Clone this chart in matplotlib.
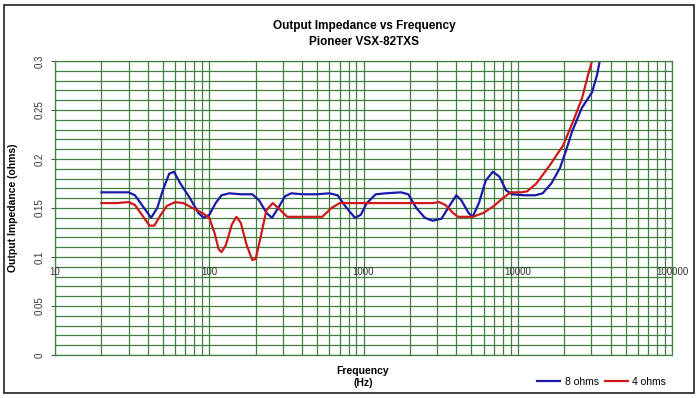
import numpy as np
import matplotlib.pyplot as plt
from matplotlib.patches import Rectangle
from matplotlib.ticker import FixedLocator, NullFormatter

# 8 ohm load
freq_8 = [20, 25, 30, 33, 37, 42, 46, 50, 55, 59, 65, 75, 85, 92, 100, 110, 120, 135,
          160, 190, 210, 235, 255, 280, 310, 340, 400, 500, 600, 680, 760, 880, 960,
          1050, 1200, 1400, 1750, 1950, 2200, 2500, 2800, 3200, 3600, 4000, 4300, 4800,
          5100, 5600, 6200, 6900, 7600, 8400, 9200, 11000, 13000, 14500, 16500, 18800,
          20500, 22500, 26000, 30300, 32700, 34000, 35000]
z_8 = [0.166, 0.166, 0.166, 0.163, 0.152, 0.140, 0.150, 0.168, 0.185, 0.187, 0.175,
       0.160, 0.145, 0.140, 0.143, 0.155, 0.163, 0.165, 0.164, 0.164, 0.158, 0.145,
       0.140, 0.150, 0.162, 0.165, 0.164, 0.164, 0.165, 0.163, 0.152, 0.140, 0.143,
       0.155, 0.164, 0.165, 0.166, 0.164, 0.150, 0.140, 0.137, 0.139, 0.152, 0.163,
       0.158, 0.145, 0.141, 0.155, 0.178, 0.187, 0.182, 0.168, 0.164, 0.163, 0.163,
       0.165, 0.175, 0.191, 0.208, 0.228, 0.252, 0.268, 0.286, 0.300, 0.310]

# 4 ohm load
freq_4 = [20, 25, 30, 33, 37, 41, 44, 48, 53, 60, 68, 78, 90, 100, 108, 115, 120, 128,
          140, 150, 160, 175, 190, 200, 215, 235, 258, 280, 320, 400, 540, 620, 700,
          1000, 2000, 2800, 3100, 3400, 3800, 4100, 5100, 6000, 7000, 8000, 9000, 10500,
          11500, 13200, 16200, 19700, 22800, 26100, 28600, 30300, 31500]
z_4 = [0.155, 0.155, 0.156, 0.153, 0.142, 0.132, 0.132, 0.142, 0.152, 0.156, 0.155,
       0.150, 0.145, 0.140, 0.125, 0.108, 0.105, 0.112, 0.133, 0.141, 0.135, 0.112,
       0.097, 0.098, 0.120, 0.148, 0.155, 0.150, 0.141, 0.141, 0.141, 0.150, 0.155,
       0.155, 0.155, 0.155, 0.156, 0.153, 0.145, 0.141, 0.141, 0.145, 0.152, 0.160,
       0.166, 0.166, 0.167, 0.175, 0.194, 0.214, 0.238, 0.262, 0.286, 0.300, 0.310]

x_ticks = [10, 100, 1000, 10000, 100000]
x_tick_labels = ['10', '100', '1000', '10000', '100000']
y_ticks = [0, 0.05, 0.1, 0.15, 0.2, 0.25, 0.3]
y_tick_labels = ['0', '0.05', '0.1', '0.15', '0.2', '0.25', '0.3']

plt.rcParams['font.family'] = ['Liberation Sans', 'DejaVu Sans']
grid_green = '#3f7f3f'

fig = plt.figure(figsize=(7.0, 3.98), dpi=100)
fig.patch.set_facecolor('white')
fig.patches.append(Rectangle((4 / 700, 5 / 398), 690 / 700, 388 / 398,
                             transform=fig.transFigure, fill=False,
                             edgecolor='#202020', linewidth=1.2))

ax = fig.add_axes([55 / 700, 43 / 398, 617 / 700, 294 / 398])
ax.set_xscale('log')
ax.set_xlim(10, 100000)
ax.set_ylim(0, 0.3)

# grid: every 0.01 vertically, log minor decades horizontally
minor_x = [m * 10 ** d for d in range(1, 5) for m in range(1, 10)] + [100000]
ax.xaxis.set_major_locator(FixedLocator(minor_x))
ax.xaxis.set_minor_locator(FixedLocator([]))
ax.xaxis.set_major_formatter(NullFormatter())
ax.yaxis.set_major_locator(FixedLocator(y_ticks))
ax.yaxis.set_minor_locator(FixedLocator(np.arange(0, 0.301, 0.01)))
ax.set_yticklabels([])
ax.grid(True, which='both', color=grid_green, linewidth=0.9)
ax.set_axisbelow(True)
ax.tick_params(axis='x', length=0)
ax.tick_params(axis='y', which='major', length=3, color='#555555')
ax.tick_params(axis='y', which='minor', length=0)
for s in ax.spines.values():
    s.set_color(grid_green)
    s.set_linewidth(0.9)

ax.plot(freq_8, z_8, color='#1a1aa6', linewidth=1.6, label='8 ohms')
ax.plot(freq_4, z_4, color='#cc1a1a', linewidth=1.6, label='4 ohms')

# y tick labels rotated, x labels where the axis crosses at 0.1
for v, lab in zip(y_ticks, y_tick_labels):
    ax.text(-0.025, v, lab, transform=ax.get_yaxis_transform(), rotation=90,
            ha='center', va='center', fontsize=7, color='#333333')
for f, lab in zip(x_ticks, x_tick_labels):
    ax.text(f, 0.09, lab, ha='center', va='top', fontsize=7, color='#333333')

fig.text(364 / 700, 1 - 26 / 398, 'Output Impedance vs Frequency', ha='center',
         va='center', fontsize=8.5, fontweight='bold')
fig.text(364 / 700, 1 - 42 / 398, 'Pioneer VSX-82TXS', ha='center', va='center',
         fontsize=8.5, fontweight='bold')
fig.text(363 / 700, 1 - 371 / 398, 'Frequency', ha='center', va='center',
         fontsize=7.5, fontweight='bold')
fig.text(363 / 700, 1 - 383 / 398, '(Hz)', ha='center', va='center',
         fontsize=7.5, fontweight='bold')
fig.text(13 / 700, 1 - 208 / 398, 'Output Impedance (ohms)', ha='center',
         va='center', rotation=90, fontsize=7.5, fontweight='bold')

fig.legend(loc='center right', bbox_to_anchor=(672 / 700, 1 - 382 / 398), ncol=2,
           frameon=False, fontsize=7.5, handlelength=2.2, handletextpad=0.4,
           columnspacing=0.6, borderpad=0.1)

fig.savefig('out.png', dpi=100, facecolor='white')
